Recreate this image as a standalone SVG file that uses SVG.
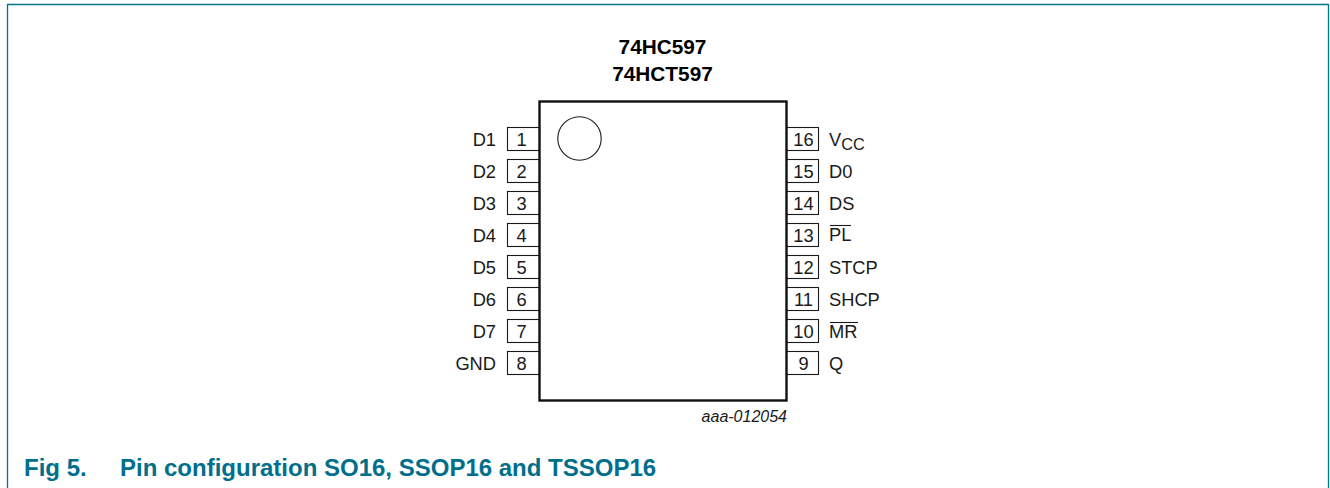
<svg xmlns="http://www.w3.org/2000/svg" width="1330" height="488" viewBox="0 0 1330 488">
<style>
text{font-family:"Liberation Sans",Arial,sans-serif;font-size:18.3px;fill:#1a1a1a}
.title{font-weight:700;font-size:20.8px;text-anchor:middle;fill:#000}
.r{text-anchor:end}
.m{text-anchor:middle}
.box{fill:#fff;stroke:#1a1a1a;stroke-width:1.1}
.ol{stroke:#1a1a1a;stroke-width:1.1;fill:none}
.cap{font-weight:700;font-size:24px;fill:#006f8b}
</style>
<rect width="1330" height="488" fill="#fff"/>
<path d="M7.5 488V4.5H1328.5V488" fill="none" stroke="#00758f" stroke-width="1.3"/>
<text class="title" x="662.5" y="54">74HC597</text>
<text class="title" x="662.5" y="80.5">74HCT597</text>
<g id="pins-left">
<g id="pin1"><rect class="box" x="507.5" y="127.5" width="32" height="23"/><text class="m" x="521.5" y="146">1</text><text class="r" x="496" y="146">D1</text></g>
<g id="pin2"><rect class="box" x="507.5" y="159.5" width="32" height="23"/><text class="m" x="521.5" y="178">2</text><text class="r" x="496" y="178">D2</text></g>
<g id="pin3"><rect class="box" x="507.5" y="191.5" width="32" height="23"/><text class="m" x="521.5" y="210">3</text><text class="r" x="496" y="210">D3</text></g>
<g id="pin4"><rect class="box" x="507.5" y="223.5" width="32" height="23"/><text class="m" x="521.5" y="242">4</text><text class="r" x="496" y="242">D4</text></g>
<g id="pin5"><rect class="box" x="507.5" y="255.5" width="32" height="23"/><text class="m" x="521.5" y="274">5</text><text class="r" x="496" y="274">D5</text></g>
<g id="pin6"><rect class="box" x="507.5" y="287.5" width="32" height="23"/><text class="m" x="521.5" y="306">6</text><text class="r" x="496" y="306">D6</text></g>
<g id="pin7"><rect class="box" x="507.5" y="319.5" width="32" height="23"/><text class="m" x="521.5" y="338">7</text><text class="r" x="496" y="338">D7</text></g>
<g id="pin8"><rect class="box" x="507.5" y="351.5" width="32" height="23"/><text class="m" x="521.5" y="370">8</text><text class="r" x="496" y="370">GND</text></g>
</g>
<g id="pins-right">
<g id="pin16"><rect class="box" x="786.5" y="127.5" width="32" height="23"/><text class="m" x="803.5" y="146">16</text><text x="829" y="146">V<tspan font-size="16.3" dy="4">CC</tspan></text></g>
<g id="pin15"><rect class="box" x="786.5" y="159.5" width="32" height="23"/><text class="m" x="803.5" y="178">15</text><text x="829" y="178">D0</text></g>
<g id="pin14"><rect class="box" x="786.5" y="191.5" width="32" height="23"/><text class="m" x="803.5" y="210">14</text><text x="829" y="210">DS</text></g>
<g id="pin13"><rect class="box" x="786.5" y="223.5" width="32" height="23"/><text class="m" x="803.5" y="242">13</text><text x="829" y="241">PL</text><path class="ol" d="M830 225.5H851"/></g>
<g id="pin12"><rect class="box" x="786.5" y="255.5" width="32" height="23"/><text class="m" x="803.5" y="274">12</text><text x="829" y="274">STCP</text></g>
<g id="pin11"><rect class="box" x="786.5" y="287.5" width="32" height="23"/><text class="m" x="803.5" y="306">11</text><text x="829" y="306">SHCP</text></g>
<g id="pin10"><rect class="box" x="786.5" y="319.5" width="32" height="23"/><text class="m" x="803.5" y="338">10</text><text x="829" y="338">MR</text><path class="ol" d="M830 322.5H858"/></g>
<g id="pin9"><rect class="box" x="786.5" y="351.5" width="32" height="23"/><text class="m" x="803.5" y="370">9</text><text x="829" y="370">Q</text></g>
</g>
<g id="chip">
<rect x="539.5" y="101.5" width="247" height="299" fill="none" stroke="#111" stroke-width="2.4"/>
<circle cx="579.5" cy="138.5" r="21.7" fill="none" stroke="#1a1a1a" stroke-width="1.1"/>
</g>
<text x="787" y="422" font-style="italic" style="font-size:16px;text-anchor:end">aaa-012054</text>
<text class="cap" x="24" y="476">Fig 5.</text>
<text class="cap" x="120" y="476">Pin configuration SO16, SSOP16 and TSSOP16</text>
</svg>
